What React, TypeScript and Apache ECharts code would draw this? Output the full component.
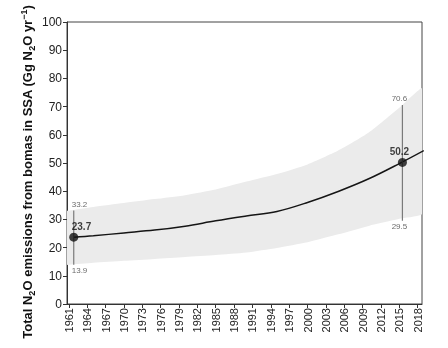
import React, { useEffect, useRef } from "react";
import * as echarts from "echarts";

// Uncertainty band
const bandYears = [1960, 1961, 1965, 1970, 1975, 1980, 1985, 1990, 1995, 2000, 2005, 2010, 2015, 2019];
const upper = [32.8, 33.1, 34.4, 35.8, 37.2, 38.6, 40.6, 43.4, 46.1, 49.5, 54.4, 60.8, 69.6, 76.5];
const lower = [13.8, 13.9, 14.6, 15.3, 16.0, 16.7, 17.4, 18.3, 19.9, 21.9, 24.7, 27.7, 30.2, 32.5];

// Central line
const lineYears = [1961.8, 1965, 1970, 1975, 1980, 1985, 1990, 1995, 2000, 2005, 2010, 2015, 2019];
const central = [23.7, 24.2, 25.2, 26.2, 27.6, 29.5, 31.2, 32.8, 36.0, 39.9, 44.4, 49.8, 54.4];

// Highlighted points with ranges
const markerYears = [1961.8, 2015.5];
const markerValues = [23.7, 50.2];
const markerHigh = [33.2, 70.6];
const markerLow = [13.9, 29.5];

const tickYears = [1961, 1964, 1967, 1970, 1973, 1976, 1979, 1982, 1985, 1988, 1991, 1994, 1997, 2000, 2003, 2006, 2009, 2012, 2015, 2018];

const FONT = "'Liberation Sans', Arial, Helvetica, sans-serif";

export default function App() {
  const ref = useRef<HTMLDivElement>(null);
  useEffect(() => {
    if (!ref.current) return;
    const chart = echarts.init(ref.current, undefined, { renderer: "svg" });
    const bandData = bandYears.map((y, i) => [y, lower[i], upper[i]]);
    const errSeries = markerYears.map((x, i) => ({
      type: "line",
      data: [
        [x, markerLow[i]],
        [x, markerHigh[i]],
      ],
      symbol: "none",
      lineStyle: { color: "#7a7a7a", width: 1.2 },
      z: 4,
    }));
    const leftAlign = (i: number) =>
      i === 0 ? { align: "left", offset: [-2, 0] } : { align: "center", offset: [-3, 0] };
    chart.setOption({
      animation: false,
      textStyle: { fontFamily: FONT },
      grid: {
        left: 67,
        right: 26,
        top: 22,
        bottom: 44,
        show: true,
        borderColor: "#444",
        borderWidth: 1,
        containLabel: false,
        outerBoundsMode: "none",
      },
      xAxis: {
        type: "value",
        min: 1960.7,
        max: 2018.7,
        splitLine: { show: false },
        axisLine: { lineStyle: { color: "#333", width: 1 } },
        axisTick: { show: true, length: 4, customValues: tickYears, lineStyle: { color: "#333" } },
        axisLabel: {
          customValues: tickYears,
          rotate: 90,
          margin: 4,
          fontSize: 11,
          color: "#222",
          fontFamily: FONT,
          formatter: (v: number) => String(Math.round(v)),
        },
      },
      yAxis: {
        type: "value",
        min: 0,
        max: 100,
        interval: 10,
        splitLine: { show: false },
        axisLine: { show: true, lineStyle: { color: "#333", width: 1 } },
        axisTick: { show: true, length: 4, lineStyle: { color: "#333" } },
        axisLabel: { fontSize: 12, color: "#222", margin: 5, fontFamily: FONT },
        name: "{b|Total N}{sub|2}{b|O emissions from bomas in SSA (Gg N}{sub|2}{b|O yr}{sup|−1}{b|)}",
        nameLocation: "middle",
        nameRotate: 90,
        nameGap: 31,
        nameMoveOverlap: false,
        nameTextStyle: {
          padding: [0, 18, 0, 0],
          rich: {
            b: { fontSize: 13, fontWeight: "bold", color: "#111", fontFamily: FONT, lineHeight: 17, verticalAlign: "middle" },
            sub: { fontSize: 9, fontWeight: "bold", color: "#111", fontFamily: FONT, lineHeight: 17, verticalAlign: "bottom" },
            sup: { fontSize: 9, fontWeight: "bold", color: "#111", fontFamily: FONT, lineHeight: 17, verticalAlign: "top" },
          },
        },
      },
      series: [
        {
          type: "custom",
          data: bandData,
          clip: true,
          z: 1,
          renderItem: (params: any, api: any) => {
            if (params.dataIndex !== 0) return null;
            const top = bandData.map((d) => api.coord([d[0], d[2]]));
            const bot = bandData.map((d) => api.coord([d[0], d[1]])).reverse();
            return {
              type: "polygon",
              shape: { points: top.concat(bot), smooth: 0.2 },
              style: { fill: "#ebebeb", stroke: "none" },
              silent: true,
            };
          },
        },
        {
          type: "line",
          data: lineYears.map((y, i) => [y, central[i]]),
          symbol: "none",
          smooth: 0.35,
          lineStyle: { color: "#151515", width: 1.5 },
          z: 3,
        },
        ...errSeries,
        {
          type: "scatter",
          symbolSize: 0,
          data: markerYears.map((x, i) => ({
            value: [x, markerHigh[i]],
            label: { show: true, position: "top", distance: 2, ...leftAlign(i) },
          })),
          label: { fontSize: 8, color: "#444", fontFamily: FONT, formatter: (p: any) => p.value[1].toFixed(1) },
          z: 5,
        },
        {
          type: "scatter",
          symbolSize: 0,
          data: markerYears.map((x, i) => ({
            value: [x, markerLow[i]],
            label: { show: true, position: "bottom", distance: 2, ...leftAlign(i) },
          })),
          label: { fontSize: 8, color: "#444", fontFamily: FONT, formatter: (p: any) => p.value[1].toFixed(1) },
          z: 5,
        },
        {
          type: "scatter",
          symbol: "circle",
          symbolSize: 9,
          itemStyle: { color: "#111" },
          data: markerYears.map((x, i) => ({
            value: [x, markerValues[i]],
            label: { show: true, position: "top", distance: 1, ...leftAlign(i) },
          })),
          label: { fontSize: 10, fontWeight: "bold", color: "#111", fontFamily: FONT, formatter: (p: any) => p.value[1].toFixed(1) },
          z: 6,
        },
      ],
    });
    return () => chart.dispose();
  }, []);
  return <div ref={ref} style={{ position: "fixed", left: 0, top: 0, width: 448, height: 348 }} />;
}
